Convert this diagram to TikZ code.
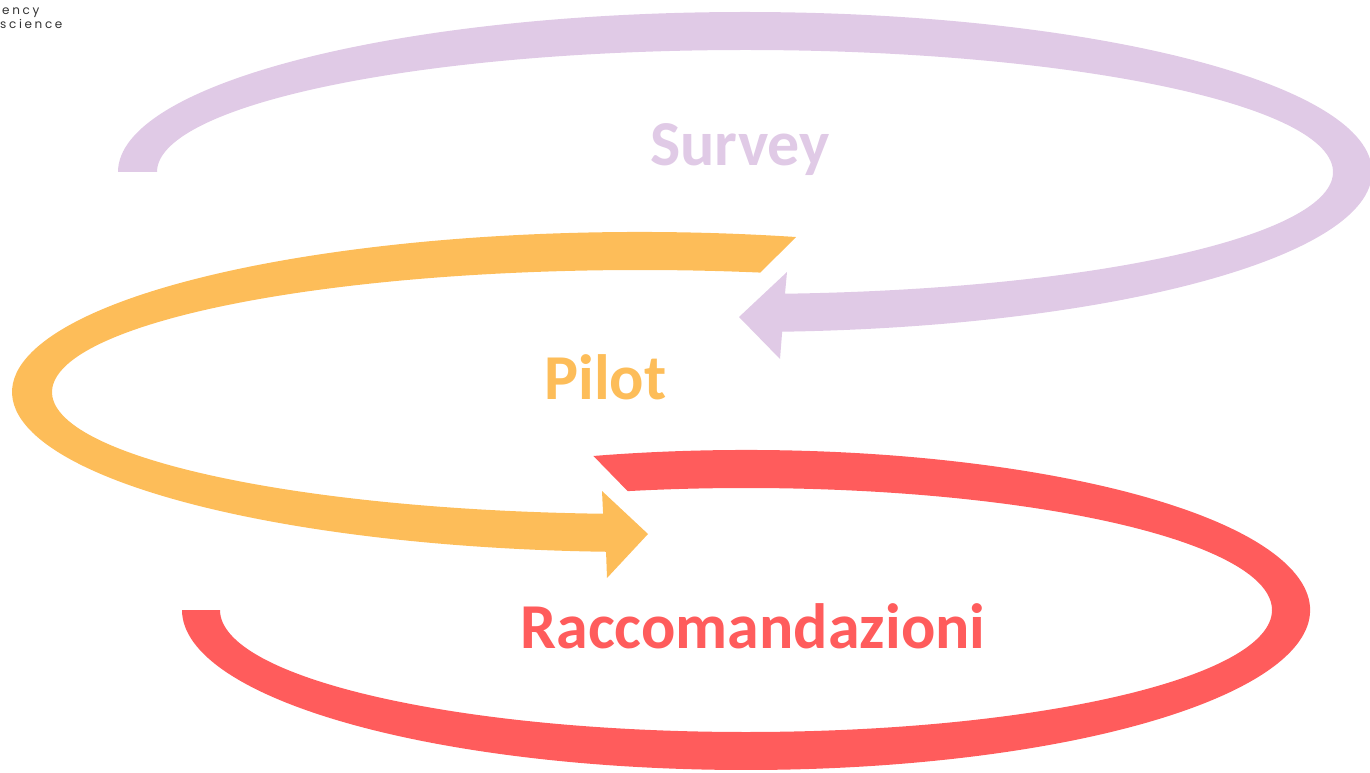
\documentclass[tikz,border=0pt]{standalone}
\usepackage{fontspec}
\setmainfont{Carlito}
\newfontfamily\logofont[LetterSpace=22]{Poppins}
\usepackage{tikz}
\usetikzlibrary{calc}

\definecolor{surveycol}{RGB}{224,202,230}
\definecolor{pilotcol}{RGB}{253,189,89}
\definecolor{raccol}{RGB}{255,92,92}
\definecolor{logocol}{RGB}{50,50,50}

\tikzset{
  phasetext/.style={font=\fontsize{64}{70}\selectfont\bfseries,anchor=base,inner sep=0pt},
  logotext/.style={font=\logofont\fontsize{12}{14}\selectfont,text=logocol,anchor=base west,inner sep=0pt}
}

\begin{document}
\begin{tikzpicture}[x=1pt,y=1pt]
  \useasboundingbox (0,0) rectangle (1370,772);

  \coordinate (sc) at (745,600);
  \coordinate (pc) at (640,380);
  \coordinate (rc) at (746,162);

  % Survey
  \fill[surveycol] ([shift={(sc)}]180:627 and 160) arc[start angle=180,end angle=-86.6,x radius=627,y radius=160]
    -- (780,413) -- (739,455) -- (787,500)
    -- ([shift={(sc)}]-86.1:588 and 122) arc[start angle=-86.1,end angle=180,x radius=588,y radius=122] -- cycle;

  % Pilot
  \fill[pilotcol] ([shift={(pc)}]75.6:628 and 160) arc[start angle=75.6,end angle=266.9,x radius=628,y radius=160]
    -- (607,194) -- (648,238) -- (602,281)
    -- ([shift={(pc)}]266.4:588 and 122) arc[start angle=266.4,end angle=78.2,x radius=588,y radius=122] -- cycle;

  % Raccomandazioni
  \fill[raccol] ([shift={(rc)}]105.7:564 and 160) arc[start angle=105.7,end angle=-180,x radius=564,y radius=160]
    -- ([shift={(rc)}]-180:526 and 122) arc[start angle=-180,end angle=103,x radius=526,y radius=122] -- cycle;

  \node at (740,606) [phasetext,text=surveycol] (survey) {Survey};
  \node at (605.5,373) [phasetext,text=pilotcol] (pilot) {Pilot};
  \node at (753,124) [phasetext,text=raccol] (racc) {Raccomandazioni};

  \node at (2,757) [logotext] (logoa) {ency};
  \node at (0,743) [logotext] (logob) {science};
\end{tikzpicture}
\end{document}
